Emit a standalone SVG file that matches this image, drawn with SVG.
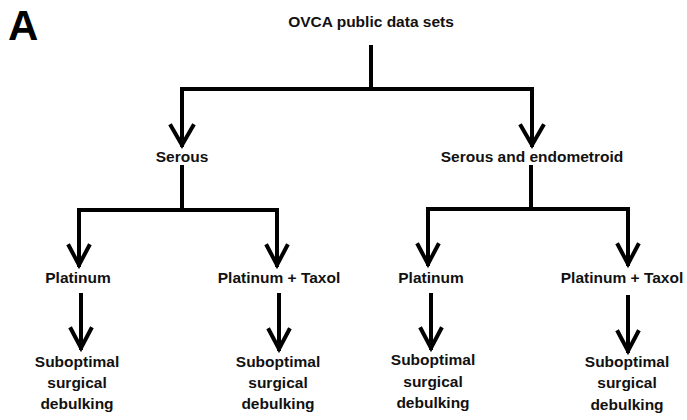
<svg xmlns="http://www.w3.org/2000/svg" width="687" height="420" viewBox="0 0 687 420">
<style>
.t{font-family:"Liberation Sans",Arial,sans-serif;font-weight:bold;font-size:15.5px;fill:#111;text-anchor:middle}
.c{stroke:#000;stroke-width:4;fill:none;stroke-linecap:square;stroke-linejoin:miter}
</style>
<rect width="687" height="420" fill="#fff"/>
<text x="8" y="40" style="font-family:'Liberation Sans',Arial,sans-serif;font-weight:bold;font-size:42px" fill="#000">A</text>
<g id="root"><text class="t" x="371" y="27">OVCA public data sets</text></g>
<g id="serous"><text class="t" x="182" y="162">Serous</text></g>
<g id="serendo"><text class="t" x="532" y="162">Serous and endometroid</text></g>
<g id="plat1"><text class="t" x="78" y="283">Platinum</text></g>
<g id="pt1"><text class="t" x="279" y="283">Platinum + Taxol</text></g>
<g id="plat2"><text class="t" x="431" y="283">Platinum</text></g>
<g id="pt2"><text class="t" x="622" y="283">Platinum + Taxol</text></g>
<g id="sub1"><text class="t" x="77" y="367">Suboptimal</text><text class="t" x="77" y="388">surgical</text><text class="t" x="77" y="409">debulking</text></g>
<g id="sub2"><text class="t" x="278" y="367">Suboptimal</text><text class="t" x="278" y="388">surgical</text><text class="t" x="278" y="409">debulking</text></g>
<g id="sub3"><text class="t" x="433" y="365">Suboptimal</text><text class="t" x="433" y="387">surgical</text><text class="t" x="433" y="408">debulking</text></g>
<g id="sub4"><text class="t" x="627" y="367">Suboptimal</text><text class="t" x="627" y="388">surgical</text><text class="t" x="627" y="410">debulking</text></g>
<g id="connectors">
<path class="c" d="M371 47V89M182 89H532M182 89V145M532 89V145"/>
<path class="c" d="M171 126L182 145L193 126M521 126L532 145L543 126"/>
<path class="c" d="M182 167V210M79 210H277M79 210V265M277 210V265"/>
<path class="c" d="M69 246L79 265L89 246M267 246L277 265L287 246"/>
<path class="c" d="M531 167V209M428 209H628M428 209V264M628 209V264"/>
<path class="c" d="M418 245L428 264L438 245M618 245L628 264L638 245"/>
<path class="c" d="M81 295V348M279 295V349M431 295V348M628 297V351"/>
<path class="c" d="M71 329L81 348L91 329M269 330L279 349L289 330M421 329L431 348L441 329M618 332L628 351L638 332"/>
</g>
</svg>
